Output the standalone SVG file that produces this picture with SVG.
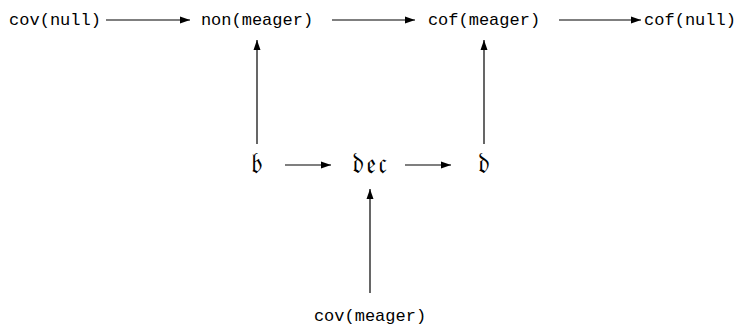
<svg xmlns="http://www.w3.org/2000/svg" width="741" height="327" viewBox="0 0 741 327">
<style>
.t{font-family:"Liberation Mono","Courier New",monospace;font-size:17px;fill:#000}
.f{font-family:"Noto Sans Math","DejaVu Sans","DejaVu Serif",serif;font-size:27px;fill:#000}
.c line{stroke:#000;stroke-width:1.2;fill:none}
</style>
<defs>
<marker id="ah" viewBox="0 0 10 10" refX="10" refY="5" markerWidth="10" markerHeight="10" markerUnits="userSpaceOnUse" orient="auto">
<path d="M0,1.5 L10,5 L0,8.5 Z" fill="#000"/>
</marker>
</defs>
<g id="cov-null"><text class="t" x="55" y="25" text-anchor="middle">cov(null)</text></g>
<g id="non-meager"><text class="t" x="257" y="25" text-anchor="middle">non(meager)</text></g>
<g id="cof-meager"><text class="t" x="484" y="25" text-anchor="middle">cof(meager)</text></g>
<g id="cof-null"><text class="t" x="690" y="25" text-anchor="middle">cof(null)</text></g>
<g id="b"><text class="f" x="257" y="173" text-anchor="middle">𝔟</text></g>
<g id="dec"><text class="f" x="370" y="173" text-anchor="middle"><tspan>𝔡</tspan><tspan dx="3">𝔢</tspan><tspan dx="3">𝔠</tspan></text></g>
<g id="d"><text class="f" x="484" y="173" text-anchor="middle">𝔡</text></g>
<g id="cov-meager"><text class="t" x="370" y="321" text-anchor="middle">cov(meager)</text></g>
<g class="c" id="connectors">
<line x1="106" y1="20" x2="190" y2="20" marker-end="url(#ah)"/>
<line x1="332" y1="20" x2="415" y2="20" marker-end="url(#ah)"/>
<line x1="559" y1="20" x2="641" y2="20" marker-end="url(#ah)"/>
<line x1="257" y1="144" x2="257" y2="40" marker-end="url(#ah)"/>
<line x1="484" y1="144" x2="484" y2="40" marker-end="url(#ah)"/>
<line x1="285" y1="165" x2="331" y2="165" marker-end="url(#ah)"/>
<line x1="405" y1="165" x2="451" y2="165" marker-end="url(#ah)"/>
<line x1="370" y1="293" x2="370" y2="189" marker-end="url(#ah)"/>
</g>
</svg>
